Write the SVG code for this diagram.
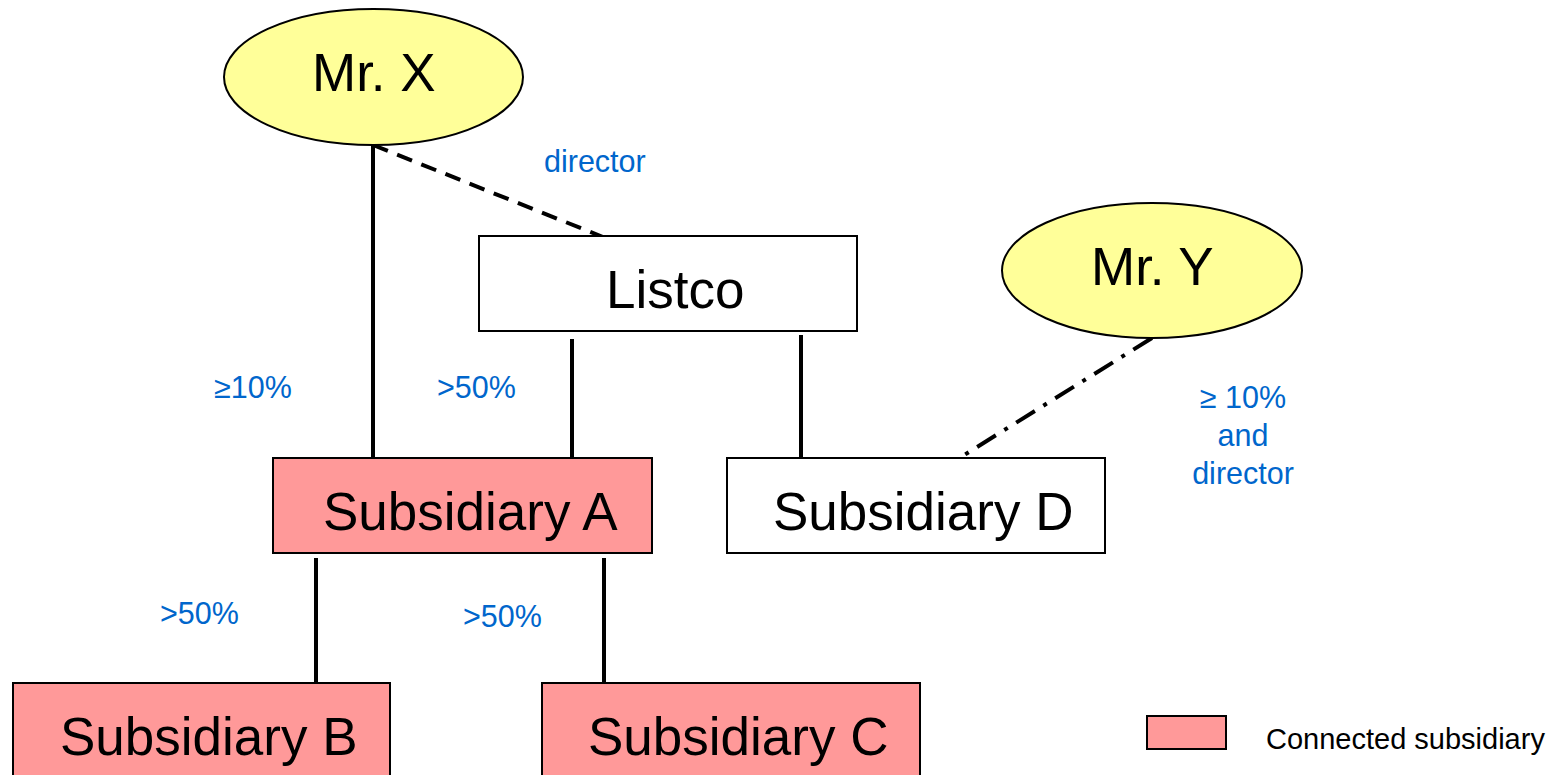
<svg xmlns="http://www.w3.org/2000/svg" width="1561" height="775" viewBox="0 0 1561 775">
  <style>
    .person { fill: #ffff99; stroke: #000; stroke-width: 2; }
    .box { fill: #fff; stroke: #000; stroke-width: 2; }
    .conn { fill: #ff9999; stroke: #000; stroke-width: 2; }
    .name { font-family: "Liberation Sans", Arial, sans-serif; font-size: 53px; fill: #000; }
    .pct { font-family: "Liberation Sans", Arial, sans-serif; font-size: 30.5px; fill: #0066cc; }
    .legend { font-family: "Liberation Sans", Arial, sans-serif; font-size: 29px; fill: #000; }
    .link { stroke: #000; stroke-width: 4; fill: none; }
  </style>
  <rect width="1561" height="775" fill="#fff"/>

  <g id="connectors">
    <line class="link" x1="373" y1="145" x2="373" y2="463"/>
    <line class="link" x1="373" y1="145" x2="603" y2="237" stroke-dasharray="16,10"/>
    <line class="link" x1="572" y1="339" x2="572" y2="463"/>
    <line class="link" x1="801" y1="335" x2="801" y2="458"/>
    <line class="link" x1="1152" y1="338" x2="961" y2="457" stroke-dasharray="22,10,4,10"/>
    <line class="link" x1="316" y1="558" x2="316" y2="683"/>
    <line class="link" x1="604" y1="558" x2="604" y2="683"/>
  </g>

  <g id="mr-x">
    <ellipse class="person" cx="373.5" cy="77" rx="149.5" ry="68"/>
    <text class="name" x="312" y="91">Mr. X</text>
  </g>
  <g id="mr-y">
    <ellipse class="person" cx="1152" cy="270.5" rx="150" ry="67.5"/>
    <text class="name" x="1091" y="285">Mr. Y</text>
  </g>
  <g id="listco">
    <rect class="box" x="479" y="236" width="378" height="95"/>
    <text class="name" x="606" y="308">Listco</text>
  </g>
  <g id="subsidiary-a">
    <rect class="conn" x="273" y="458" width="379" height="95"/>
    <text class="name" x="323" y="530">Subsidiary A</text>
  </g>
  <g id="subsidiary-d">
    <rect class="box" x="727" y="458" width="378" height="95"/>
    <text class="name" x="773" y="530">Subsidiary D</text>
  </g>
  <g id="subsidiary-b">
    <rect class="conn" x="13" y="683" width="377" height="100"/>
    <text class="name" x="60" y="755">Subsidiary B</text>
  </g>
  <g id="subsidiary-c">
    <rect class="conn" x="542" y="683" width="378" height="100"/>
    <text class="name" x="588" y="755">Subsidiary C</text>
  </g>

  <g id="labels">
    <text class="pct" x="544" y="172">director</text>
    <text class="pct" x="214" y="398">≥10%</text>
    <text class="pct" x="437" y="398">&gt;50%</text>
    <text class="pct" x="160" y="624">&gt;50%</text>
    <text class="pct" x="463" y="627">&gt;50%</text>
    <text class="pct" text-anchor="middle" x="1243" y="408">≥ 10%</text>
    <text class="pct" text-anchor="middle" x="1243" y="446">and</text>
    <text class="pct" text-anchor="middle" x="1243" y="484">director</text>
  </g>

  <g id="legend">
    <rect class="conn" x="1147" y="716" width="79" height="33"/>
    <text class="legend" x="1266" y="749">Connected subsidiary</text>
  </g>
</svg>
